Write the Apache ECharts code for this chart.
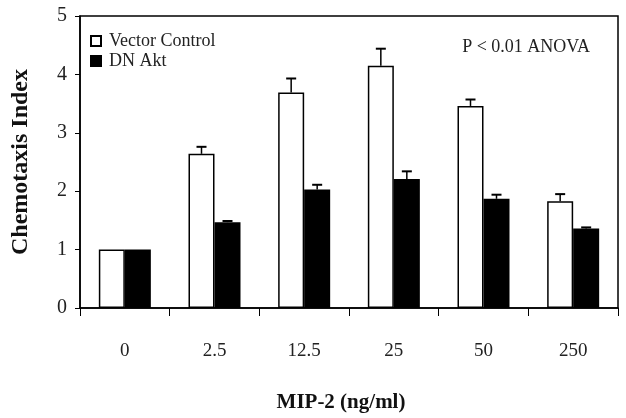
<!DOCTYPE html>
<html><head><meta charset="utf-8">
<script src="https://cdn.jsdelivr.net/npm/echarts@6/dist/echarts.min.js"></script>
<style>html,body{margin:0;padding:0;background:#fff}#c{width:626px;height:418px}</style>
</head><body><div id="c"></div>
<script>
const categories = ['0', '2.5', '12.5', '25', '50', '250'];
const vectorControl = [1.0, 2.64, 3.69, 4.15, 3.46, 1.83];
const vectorErr = [0, 0.12, 0.24, 0.29, 0.11, 0.12];
const dnAkt = [1.0, 1.47, 2.03, 2.21, 1.87, 1.36];
const dnAktErr = [0, 0.02, 0.08, 0.13, 0.07, 0.02];
const yTicks = [0, 1, 2, 3, 4, 5];

const FONT = '"Liberation Serif", "Times New Roman", serif';
const CAT_GAP = 0.42;
const barFrac = (1 - CAT_GAP) / 2;

function errSeries(vals, errs, side) {
  return {
    type: 'custom',
    data: vals.map((v, i) => [i, v, v + errs[i]]),
    z: 5,
    silent: true,
    renderItem: function (params, api) {
      const band = api.size([1, 0])[0];
      const off = side * band * barFrac / 2;
      const i = api.value(0);
      if (api.value(2) <= api.value(1)) return null;
      const p0 = api.coord([i, api.value(1)]);
      const p1 = api.coord([i, api.value(2)]);
      const x = p0[0] + off;
      const cap = 5;
      return {
        type: 'group',
        children: [
          { type: 'line', shape: { x1: x, y1: p0[1], x2: x, y2: p1[1] }, style: { stroke: '#000', lineWidth: 1.5 } },
          { type: 'line', shape: { x1: x - cap, y1: p1[1], x2: x + cap, y2: p1[1] }, style: { stroke: '#000', lineWidth: 2 } }
        ]
      };
    }
  };
}

const chart = echarts.init(document.getElementById('c'), null, { renderer: 'canvas' });
chart.setOption({
  animation: false,
  backgroundColor: '#fff',
  textStyle: { fontFamily: FONT },
  grid: { left: 80, right: 8, top: 16, bottom: 108, show: true, borderColor: '#000', borderWidth: 1.5, backgroundColor: 'transparent' },
  title: {
    text: 'P < 0.01 ANOVA', right: 31, top: 33,
    textStyle: { fontFamily: FONT, fontSize: 18, fontWeight: 'normal', color: '#222' }
  },
  legend: {
    orient: 'vertical', left: 90, top: 31, itemWidth: 10, itemHeight: 10, itemGap: 0,
    padding: 0,
    icon: 'rect',
    data: ['Vector Control', 'DN Akt'],
    textStyle: { fontFamily: FONT, fontSize: 18, lineHeight: 18, color: '#222', padding: [2, 0, 0, 3] }
  },
  xAxis: {
    type: 'category', data: categories,
    name: 'MIP-2 (ng/ml)', nameLocation: 'middle', nameGap: 84,
    nameTextStyle: { fontFamily: FONT, fontSize: 21, fontWeight: 'bold', color: '#111', padding: [0, 16, 0, 0] },
    axisLine: { lineStyle: { color: '#000', width: 1.5 } },
    axisTick: { show: true, inside: false, length: 8, alignWithLabel: false, lineStyle: { color: '#000' } },
    axisLabel: { fontFamily: FONT, fontSize: 19, color: '#222', margin: 34 },
    splitLine: { show: false }
  },
  yAxis: {
    type: 'value', min: 0, max: 5, interval: 1,
    name: 'Chemotaxis Index', nameLocation: 'middle', nameGap: 47,
    nameTextStyle: { fontFamily: FONT, fontSize: 24, fontWeight: 'bold', color: '#111' },
    axisLine: { show: true, lineStyle: { color: '#000', width: 1.5 } },
    axisTick: { show: true, inside: false, length: 5, lineStyle: { color: '#000' } },
    axisLabel: { fontFamily: FONT, fontSize: 20, color: '#222', margin: 13,
      formatter: v => yTicks.includes(v) ? String(v) : '' },
    splitLine: { show: false }
  },
  series: [
    { name: 'Vector Control', type: 'bar', data: vectorControl, barGap: '0%', barCategoryGap: (CAT_GAP * 100) + '%',
      itemStyle: { color: '#fff', borderColor: '#000', borderWidth: 1.5 } },
    { name: 'DN Akt', type: 'bar', data: dnAkt, barGap: '0%', barCategoryGap: (CAT_GAP * 100) + '%',
      itemStyle: { color: '#000', borderColor: '#000', borderWidth: 1.5 } },
    errSeries(vectorControl, vectorErr, -1),
    errSeries(dnAkt, dnAktErr, 1)
  ]
});
</script></body></html>
